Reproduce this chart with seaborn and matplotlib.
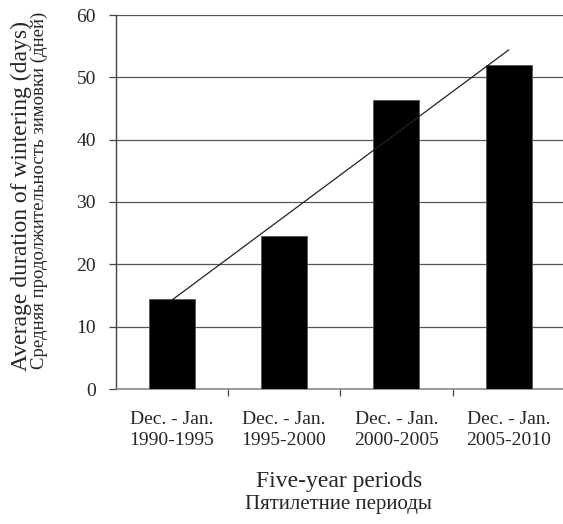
import numpy as np
import pandas as pd
import matplotlib
matplotlib.use("Agg")
import matplotlib.pyplot as plt
import seaborn as sns

periods = ["Dec. - Jan.\n1990-1995", "Dec. - Jan.\n1995-2000",
           "Dec. - Jan.\n2000-2005", "Dec. - Jan.\n2005-2010"]
durations = [14.5, 24.6, 46.3, 51.9]
y_ticks = [0, 10, 20, 30, 40, 50, 60]

sns.set_theme(style="white")
plt.rcParams['font.family'] = ['Liberation Serif', 'DejaVu Serif']

df = pd.DataFrame({"period": periods, "duration": durations,
                   "pos": np.arange(len(periods))})

fig = plt.figure(figsize=(5.63, 5.24), dpi=100)
ax = fig.add_axes([115.5 / 563, 1 - 389 / 524, (565 - 115.5) / 563, (389 - 15) / 524])

sns.barplot(data=df, x="period", y="duration", color="black", width=0.41,
            saturation=1, ax=ax, zorder=3, edgecolor="#555555", linewidth=0.6)
sns.regplot(data=df, x="pos", y="duration", scatter=False, ci=None, truncate=True,
            line_kws=dict(color="#222222", lw=0.9, zorder=4), ax=ax)

ax.set_xlim(-0.5, 3.5)
ax.set_ylim(0, 60)
ax.set_yticks(y_ticks)
ax.yaxis.grid(True, color="#555555", lw=0.9, zorder=0)
ax.xaxis.grid(False)
for s in ["top", "right"]:
    ax.spines[s].set_visible(False)
ax.spines["left"].set_color("#444444")
ax.spines["bottom"].set_color("#888888")
ax.spines["left"].set_linewidth(1.0)
ax.spines["bottom"].set_linewidth(1.2)

ax.set_xticks(range(4))
ax.set_xticklabels(periods, fontsize=14, linespacing=1.3)
ax.tick_params(axis="x", length=0, pad=16)
ax.set_xticks([0.5, 1.5, 2.5, 3.5], minor=True)
ax.tick_params(axis="x", which="minor", length=5, width=0.9, color="#444444", direction="out", bottom=True)
ax.tick_params(axis="y", length=5, width=0.9, color="#444444", direction="out", left=True,
               labelsize=14, pad=9)
ax.set_xlabel("")
ax.set_ylabel("")

fig.text(0.602, 1 - 482 / 524, "Five-year periods", ha="center", va="center", fontsize=17)
fig.text(0.602, 1 - 504 / 524, "Пятилетние периоды", ha="center", va="center", fontsize=15)
fig.text(21 / 563, 1 - 196 / 524, "Average duration of wintering (days)", rotation=90,
         ha="center", va="center", fontsize=17)
fig.text(39.5 / 563, 1 - 190 / 524, "Средняя продолжительность зимовки (дней)", rotation=90,
         ha="center", va="center", fontsize=13.5)

fig.savefig("out.png", dpi=100, facecolor="white")
